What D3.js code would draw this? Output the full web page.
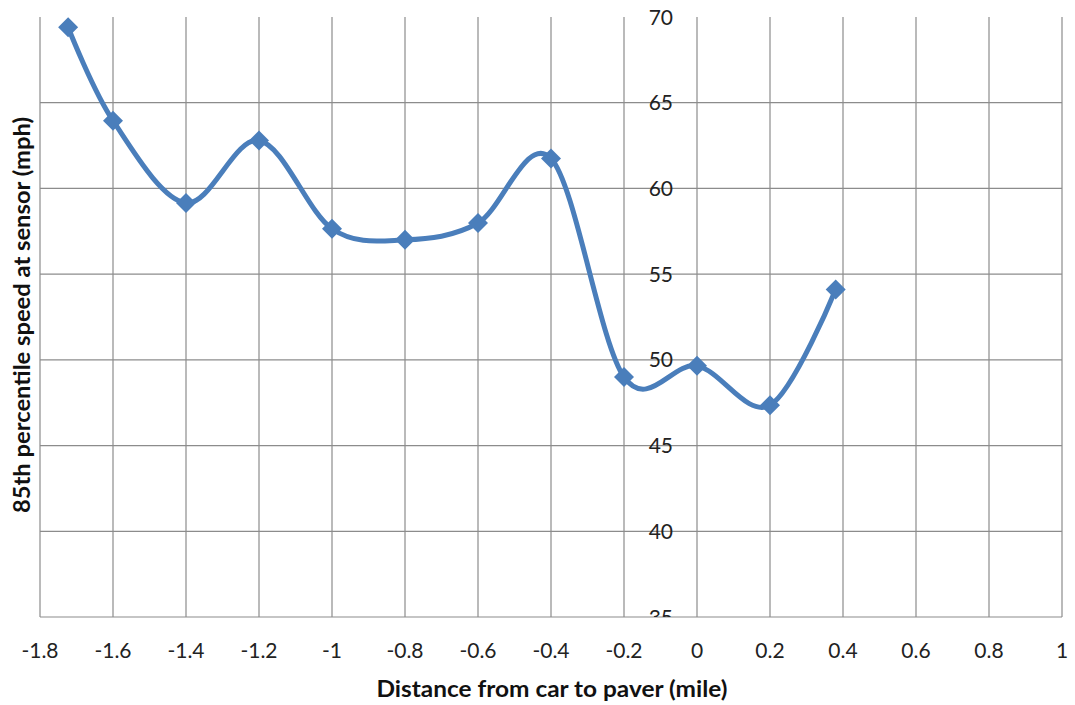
<!DOCTYPE html>
<html><head><meta charset="utf-8">
<script src="https://cdn.jsdelivr.net/npm/d3@7"></script>
<style>body{margin:0;background:#fff}svg{display:block}</style>
</head><body>
<svg id="c" width="1075" height="705"></svg>
<script>
const distance = [-1.723, -1.6, -1.4, -1.2, -1.0, -0.8, -0.6, -0.4, -0.2, 0.0, 0.2, 0.38];
const speed85 = [69.4, 63.95, 59.15, 62.8, 57.65, 57.0, 57.98, 61.75, 49.0, 49.65, 47.35, 54.1];
const xTicks = [-1.8, -1.6, -1.4, -1.2, -1, -0.8, -0.6, -0.4, -0.2, 0, 0.2, 0.4, 0.6, 0.8, 1];
const yTicks = [35, 40, 45, 50, 55, 60, 65, 70];
const xTitle = "Distance from car to paver (mile)";
const yTitle = "85th percentile speed at sensor (mph)";

const svg = d3.select("#c");
const font = "Lato, 'Open Sans', sans-serif";
const x = d3.scaleLinear().domain([-1.8, 1]).range([40, 1062]);
const y = d3.scaleLinear().domain([35, 70]).range([617, 17]);
const grid = "#8c8c8c";

// vertical gridlines
svg.append("g").selectAll("line").data(xTicks).join("line")
  .attr("x1", d => x(d)).attr("x2", d => x(d))
  .attr("y1", y(70)).attr("y2", y(35))
  .attr("stroke", grid).attr("stroke-width", 1.2);
// horizontal gridlines (no line at top)
svg.append("g").selectAll("line").data(yTicks.filter(d => d < 70)).join("line")
  .attr("x1", x(-1.8)).attr("x2", x(1))
  .attr("y1", d => y(d)).attr("y2", d => y(d))
  .attr("stroke", grid).attr("stroke-width", 1.2);

// y tick labels, beside the x=0 line, clipped at the bottom axis
svg.append("clipPath").attr("id", "yclip").append("rect")
  .attr("x", 0).attr("y", 0).attr("width", 1075).attr("height", y(35));
svg.append("g").attr("clip-path", "url(#yclip)")
  .selectAll("text").data(yTicks).join("text")
  .attr("x", x(0) - 24).attr("y", d => y(d)).attr("dy", "0.36em")
  .attr("text-anchor", "end").attr("font-family", font).attr("font-size", 21)
  .attr("fill", "#222").text(d => d);

// x tick labels (plain hyphen minus)
svg.append("g").selectAll("text").data(xTicks).join("text")
  .attr("x", d => x(d)).attr("y", 658)
  .attr("text-anchor", "middle").attr("font-family", font).attr("font-size", 21)
  .attr("fill", "#222").text(d => String(d));

// line
const color = "#4a7ebb";
const pts = distance.map((d, i) => [d, speed85[i]]);
svg.append("path").datum(pts)
  .attr("d", d3.line().x(d => x(d[0])).y(d => y(d[1])).curve(d3.curveCardinal.tension(0)))
  .attr("fill", "none").attr("stroke", color).attr("stroke-width", 5)
  .attr("stroke-linejoin", "round");
svg.append("g").selectAll("path").data(pts).join("path")
  .attr("transform", d => `translate(${x(d[0])},${y(d[1])})`)
  .attr("d", "M0,-10L10,0L0,10L-10,0Z").attr("fill", color);

// axis titles
svg.append("text").attr("x", 552).attr("y", 697).attr("text-anchor", "middle")
  .attr("font-family", font).attr("font-weight", "bold").attr("font-size", 22)
  .attr("textLength", 351).attr("lengthAdjust", "spacingAndGlyphs")
  .attr("fill", "#111").text(xTitle);
svg.append("text").attr("transform", "translate(30,315) rotate(-90)").attr("text-anchor", "middle")
  .attr("font-family", font).attr("font-weight", "bold").attr("font-size", 22)
  .attr("textLength", 396).attr("lengthAdjust", "spacingAndGlyphs")
  .attr("fill", "#111").text(yTitle);
</script>
</body></html>
